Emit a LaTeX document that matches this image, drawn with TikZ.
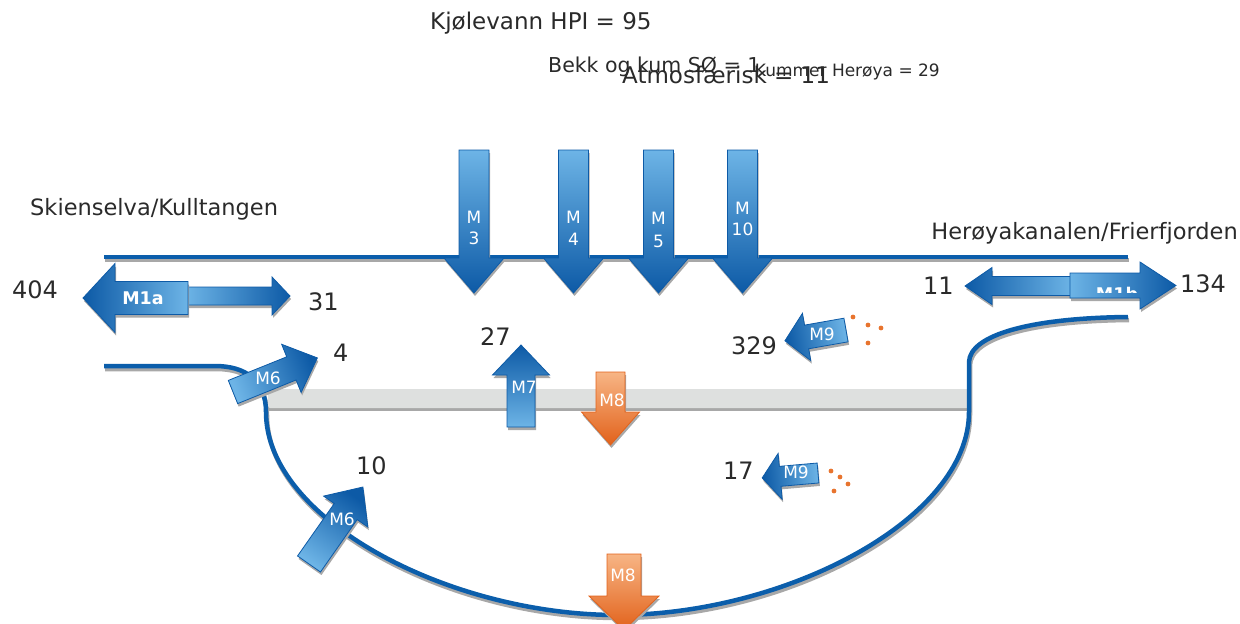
\documentclass[tikz,border=0pt]{standalone}
\usepackage{fontspec}
\setmainfont{DejaVu Sans}
\definecolor{lineblue}{HTML}{0B5EAB}
\definecolor{blueL}{HTML}{6DB4E6}
\definecolor{blueD}{HTML}{0D5AA6}
\definecolor{orangeL}{HTML}{F7B585}
\definecolor{orangeD}{HTML}{E2621B}
\definecolor{shadowgray}{HTML}{A8A8A8}
\definecolor{bargray}{HTML}{DEE0DF}
\definecolor{ink}{HTML}{2A2A2A}
\definecolor{dotorange}{HTML}{E8742E}

% block arrow: tail x, tail y, angle, length, shaft half width,
% head half width, head length, tail colour, head colour
\newcommand\flowarrow[9]{%
  \pgfmathsetmacro\flowshadeangle{#3-90}%
  \fill[shadowgray, shift={(#1+1,#2+3)}, rotate=#3]
    (0,-#5) -- (#4-#7,-#5) -- (#4-#7,-#6) -- (#4,0) -- (#4-#7,#6) -- (#4-#7,#5) -- (0,#5) -- cycle;
  \shade[top color=#9, bottom color=#8, shading angle=\flowshadeangle, draw=#9, line width=0.8pt, shift={(#1,#2)}, rotate=#3]
    (0,-#5) -- (#4-#7,-#5) -- (#4-#7,-#6) -- (#4,0) -- (#4-#7,#6) -- (#4-#7,#5) -- (0,#5) -- cycle;
}

\tikzset{
  place/.style={text=ink, inner sep=0pt, font=\fontsize{22.5}{27}\selectfont},
  num/.style={text=ink, inner sep=0pt, font=\fontsize{24}{28}\selectfont},
  tag/.style={text=white, inner sep=0pt, font=\fontsize{17}{20}\selectfont},
  boldtag/.style={tag, font=\bfseries\fontsize{17.5}{21}\selectfont},
  flowline/.style={draw=lineblue, line width=4.5pt, line cap=butt},
  lineshadow/.style={draw=shadowgray, line width=4.5pt, line cap=butt},
  dot/.style={fill=dotorange, draw=none},
}

\begin{document}
\begin{tikzpicture}[x=1pt, y=-1pt]
\useasboundingbox (0,0) rectangle (1240,624);

% source headings
\node[place, anchor=base west, font=\fontsize{23}{27}\selectfont] (kjol) at (430,29) {Kjølevann HPI = 95};
\node[place, anchor=base west, font=\fontsize{20.5}{25}\selectfont] (bekk) at (548,72) {Bekk og kum SØ = 1};
\node[place, anchor=base east, font=\fontsize{17}{20}\selectfont] (kummer) at (940,76) {Kummer Herøya = 29};
\node[place, anchor=base west, font=\fontsize{23}{27}\selectfont] (atmos) at (622,83) {Atmosfærisk = 11};
\node[place, anchor=base west] (skien) at (30,215) {Skienselva/Kulltangen};
\node[place, anchor=base east] (heroy) at (1238,239) {Herøyakanalen/Frierfjorden};

% water surface
\draw[lineshadow] (105,260) -- (1129,260);
\draw[flowline] (104,257) -- (1128,257);

% basin outline
\draw[lineshadow, shift={(1,3)}]
  (104,366) -- (215,366) .. controls (245,366) and (266,380) .. (266,412)
  .. controls (266,520) and (450,615) .. (617,615)
  .. controls (784,615) and (969,520) .. (969,412)
  -- (969,362) .. controls (970,335) and (1030,318) .. (1128,317);
% sediment layer
\fill[shadowgray] (268,392) rectangle (970,411);
\fill[bargray, rounded corners=2pt] (268,389) rectangle (970,408);
\draw[flowline, line join=round]
  (104,366) -- (215,366) .. controls (245,366) and (266,380) .. (266,412)
  .. controls (266,520) and (450,615) .. (617,615)
  .. controls (784,615) and (969,520) .. (969,412)
  -- (969,362) .. controls (970,335) and (1030,318) .. (1128,317);

% inputs from above
\flowarrow{474}{150}{-90}{143}{15}{30}{35}{blueL}{blueD}
\flowarrow{573.5}{150}{-90}{143}{15}{30}{35}{blueL}{blueD}
\flowarrow{658.5}{150}{-90}{143}{15}{30}{35}{blueL}{blueD}
\flowarrow{742.5}{150}{-90}{143}{15}{30}{35}{blueL}{blueD}
\node[tag] (m3a) at (474,217) {M};
\node[tag] (m3b) at (474,238) {3};
\node[tag] (m4a) at (573.5,217) {M};
\node[tag] (m4b) at (573.5,239) {4};
\node[tag] (m5a) at (658.5,218) {M};
\node[tag] (m5b) at (658.5,241) {5};
\node[tag] (m10a) at (742.5,208) {M};
\node[tag] (m10b) at (742.5,229) {10};

% exchange with Skienselva
\flowarrow{186}{296}{0}{104}{9}{19}{18}{blueL}{blueD}
\flowarrow{188}{298}{180}{105}{16.5}{34.5}{32}{blueL}{blueD}
\node[boldtag] (m1a) at (143,298) {M1a};

% exchange with Herøyakanalen
\flowarrow{1072}{286}{180}{107}{9.5}{18.5}{27}{blueL}{blueD}
\flowarrow{1070}{285.5}{0}{106}{12.5}{23.5}{36}{blueL}{blueD}
\begin{scope}
  \clip (1070,273) rectangle (1140,292);
  \node[boldtag] (m1b) at (1117,294) {M1b};
\end{scope}

% sediment fluxes
\flowarrow{233}{392}{22}{91}{12.5}{26}{28}{blueL}{blueD}
\node[tag] (m6u) at (268,378) {M6};
\flowarrow{309}{564}{55}{94}{14}{27}{30}{blueL}{blueD}
\node[tag] (m6l) at (342,519) {M6};
\flowarrow{521}{427}{90}{82}{14}{28.5}{30}{blueL}{blueD}
\node[tag] (m7) at (524,387) {M7};
\flowarrow{610.5}{372}{-90}{73}{14.5}{29}{33}{orangeL}{orangeD}
\node[tag] (m8u) at (612,400) {M8};
\flowarrow{624}{554}{-90}{76}{17}{35}{34}{orangeL}{orangeD}
\node[tag] (m8l) at (623,575) {M8};

% diffuse sources
\flowarrow{846}{330}{190}{62}{12}{24}{22}{blueL}{blueD}
\node[tag] (m9u) at (822,334) {M9};
\flowarrow{818}{473}{185}{56}{10}{23}{18}{blueL}{blueD}
\node[tag] (m9l) at (796,472) {M9};
\foreach \px/\py in {853/317, 868/325, 881/328, 868/343, 831/471, 840/477, 848/484, 834/491}
  \fill[dot] (\px,\py) circle (2.4);

% amounts
\node[num, anchor=base west] (v404) at (12,298) {404};
\node[num, anchor=base west] (v31) at (308,310) {31};
\node[num, anchor=base west] (v4) at (333,361) {4};
\node[num, anchor=base west] (v27) at (480,345) {27};
\node[num, anchor=base west] (v329) at (731,354) {329};
\node[num, anchor=base west] (v11) at (923,294) {11};
\node[num, anchor=base west] (v134) at (1180,292) {134};
\node[num, anchor=base west] (v10) at (356,474) {10};
\node[num, anchor=base west] (v17) at (723,479) {17};
\end{tikzpicture}
\end{document}
